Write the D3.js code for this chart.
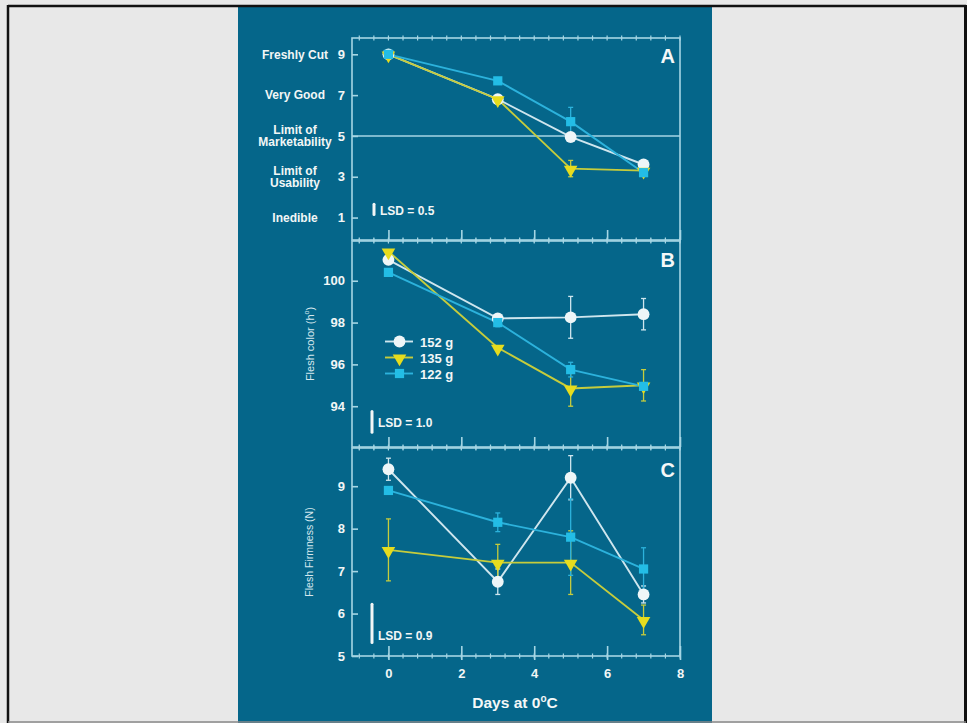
<!DOCTYPE html>
<html>
<head>
<meta charset="utf-8">
<script src="https://cdn.jsdelivr.net/npm/d3@7"></script>
<style>
  html, body { margin: 0; padding: 0; background: #e8e8e8; }
  svg { display: block; }
  text { font-family: "Liberation Sans", Arial, sans-serif; }
</style>
</head>
<body>
<script>
// Storage days at 0 °C
const days = [0, 3, 5, 7];
const seriesNames = ["152 g", "135 g", "122 g"];

// Panel A: visual quality score
const quality152 = [9.0, 6.8, 4.95, 3.6];
const quality135 = [9.0, 6.8, 3.4, 3.3];
const quality122 = [9.0, 7.7, 5.7, 3.2];
const qualityErr152 = [0, 0, 0, 0];
const qualityErr135 = [0, 0, 0.4, 0];
const qualityErr122 = [0, 0.15, 0.7, 0];
const qualityTicks = [1, 3, 5, 7, 9];
const qualityTickNames = ["Inedible", "Limit of|Usability", "Limit of|Marketability", "Very Good", "Freshly Cut"];

// Panel B: flesh color (hue angle)
const color152 = [101.0, 98.2, 98.25, 98.4];
const color135 = [101.4, 96.8, 94.85, 95.0];
const color122 = [100.4, 98.0, 95.75, 94.95];
const colorErr152 = [0, 0.15, 1.0, 0.75];
const colorErr135 = [0, 0, 0.85, 0.75];
const colorErr122 = [0, 0.2, 0.35, 0];
const colorTicks = [94, 96, 98, 100];

// Panel C: flesh firmness (N)
const firm152 = [9.4, 6.75, 9.2, 6.45];
const firm135 = [7.5, 7.2, 7.2, 5.85];
const firm122 = [8.9, 8.15, 7.8, 7.05];
const firmErr152 = [0.26, 0.3, 0.52, 0.2];
const firmErr135 = [0.73, 0.43, 0.75, 0.35];
const firmErr122 = [0, 0.22, 0.9, 0.5];
const firmTicks = [5, 6, 7, 8, 9];

const xTicks = [0, 2, 4, 6, 8];
const lsdValues = [0.5, 1.0, 0.9];
const panelLetters = ["A", "B", "C"];

// ---- drawing ----
const W = 967, H = 723;
const bg = "#05668a";
const axisColor = "#a6d6e4";
const seriesColors = ["#eef6f8", "#e6dc1e", "#23bde6"];
const lineColors = ["#cfe6ee", "#c6cc3c", "#2cb2dc"];

const svg = d3.select("body").append("svg").attr("width", W).attr("height", H);

// page and slide
svg.append("rect").attr("width", W).attr("height", H).attr("fill", "#e8e8e8");
svg.append("rect").attr("x", 238).attr("y", 7).attr("width", 474).attr("height", H - 7).attr("fill", bg);
svg.append("line").attr("x1", 8).attr("x2", 966).attr("y1", 6).attr("y2", 6).attr("stroke", "#111").attr("stroke-width", 2.5);
svg.append("line").attr("x1", 8).attr("x2", 8).attr("y1", 5).attr("y2", H).attr("stroke", "#111").attr("stroke-width", 2.5);
svg.append("line").attr("x1", 965.5).attr("x2", 965.5).attr("y1", 5).attr("y2", H).attr("stroke", "#111").attr("stroke-width", 3);
svg.append("line").attr("x1", 8).attr("x2", 966).attr("y1", 722).attr("y2", 722).attr("stroke", "#888").attr("stroke-width", 1.5);

const x = d3.scaleLinear().domain([-1, 8]).range([352, 680]);
const minorTicks = d3.range(-0.8, 8.01, 0.4);

const panels = [
  { top: 38, bottom: 240, domain: [-0.1, 9.8], ticks: qualityTicks,
    values: [quality152, quality135, quality122], errs: [qualityErr152, qualityErr135, qualityErr122],
    lsdCenter: 1.4, lsdX: 374, lsdTextY: 215, letterY: 63 },
  { top: 241, bottom: 447, domain: [92.05, 101.9], ticks: colorTicks,
    values: [color152, color135, color122], errs: [colorErr152, colorErr135, colorErr122],
    lsdCenter: 93.25, lsdX: 372, lsdTextY: 427, letterY: 267 },
  { top: 448, bottom: 656, domain: [5, 9.9], ticks: firmTicks,
    values: [firm152, firm135, firm122], errs: [firmErr152, firmErr135, firmErr122],
    lsdCenter: 5.77, lsdX: 372, lsdTextY: 640, letterY: 477 }
];

const symbols = [d3.symbolCircle, d3.symbolTriangle, d3.symbolSquare];
const symbolSizes = [110, 80, 85];

function marker(g, i, cx, cy) {
  const s = g.append("path")
    .attr("d", d3.symbol().type(symbols[i]).size(symbolSizes[i])())
    .attr("fill", seriesColors[i]);
  // triangles point downward
  s.attr("transform", i === 1 ? `translate(${cx},${cy + 1}) rotate(180)` : `translate(${cx},${cy})`);
}

panels.forEach((p, pi) => {
  const y = d3.scaleLinear().domain(p.domain).range([p.bottom, p.top]);
  const g = svg.append("g");

  // frame
  g.append("rect").attr("x", x.range()[0]).attr("y", p.top)
    .attr("width", x.range()[1] - x.range()[0]).attr("height", p.bottom - p.top)
    .attr("fill", "none").attr("stroke", axisColor).attr("stroke-width", 1.6);

  // bottom axis: major ticks inward, minor ticks crossing
  const bottomAxis = g.append("g").attr("transform", `translate(0,${p.bottom})`)
    .call(d3.axisBottom(x).tickValues(xTicks).tickSize(-10).tickSizeOuter(0).tickFormat(pi === 2 ? d3.format("d") : ""));
  bottomAxis.select(".domain").remove();
  bottomAxis.selectAll(".tick line").attr("stroke", axisColor).attr("stroke-width", 1.6);
  if (pi === 2) {
    bottomAxis.selectAll(".tick").append("line").attr("y1", 0).attr("y2", 4).attr("stroke", axisColor).attr("stroke-width", 1.6);
    bottomAxis.selectAll(".tick text").attr("y", 13).attr("dy", "0.71em")
      .attr("fill", "#f2f6f6").attr("font-size", 13).attr("font-weight", "bold");
  }
  [p.top, p.bottom].forEach(yy => {
    g.selectAll(null).data(minorTicks).join("line")
      .attr("x1", d => x(d)).attr("x2", d => x(d))
      .attr("y1", yy - 2.5).attr("y2", yy + 2.5)
      .attr("stroke", axisColor).attr("stroke-width", 1.2);
  });

  // left axis
  const leftAxis = g.append("g").attr("transform", `translate(${x.range()[0]},0)`)
    .call(d3.axisLeft(y).tickValues(p.ticks).tickSize(-6).tickSizeOuter(0).tickPadding(7).tickFormat(d3.format("d")));
  leftAxis.select(".domain").remove();
  leftAxis.selectAll(".tick line").attr("stroke", axisColor).attr("stroke-width", 1.6);
  leftAxis.selectAll(".tick text").attr("fill", "#f2f6f6").attr("font-size", 13).attr("font-weight", "bold");

  // panel letter
  g.append("text").attr("x", 675).attr("y", p.letterY).attr("text-anchor", "end")
    .attr("fill", "#f4f8f8").attr("font-size", 20).attr("font-weight", "bold").text(panelLetters[pi]);

  // LSD bar
  const lsd = lsdValues[pi];
  g.append("line").attr("x1", p.lsdX).attr("x2", p.lsdX)
    .attr("y1", y(p.lsdCenter - lsd / 2)).attr("y2", y(p.lsdCenter + lsd / 2))
    .attr("stroke", "#f2f6f6").attr("stroke-width", 3).attr("stroke-linecap", "round");
  g.append("text").attr("x", p.lsdX + 6).attr("y", p.lsdTextY)
    .attr("fill", "#f2f6f6").attr("font-size", 12).attr("font-weight", "bold")
    .text("LSD = " + d3.format(".1f")(lsd));

  // marketability limit in panel A
  if (pi === 0) {
    g.append("line").attr("x1", x.range()[0]).attr("x2", x.range()[1])
      .attr("y1", y(5)).attr("y2", y(5)).attr("stroke", axisColor).attr("stroke-width", 1.6);
    // quality scale names
    g.selectAll(null).data(qualityTicks).join("text")
      .attr("x", 295).attr("y", d => y(d))
      .attr("text-anchor", "middle").attr("fill", "#f2f6f6")
      .attr("font-size", 12).attr("font-weight", "bold")
      .each(function (d, i) {
        const lines = qualityTickNames[i].split("|");
        const t = d3.select(this);
        lines.forEach((ln, k) => {
          t.append("tspan").attr("x", 295)
            .attr("dy", k === 0 ? (0.35 - (lines.length - 1) * 0.52) + "em" : "1.04em")
            .text(ln);
        });
      });
  }

  // error bars, lines, markers
  const line = d3.line().x((d, i) => x(days[i])).y(d => y(d));
  p.values.forEach((vals, si) => {
    const errs = p.errs[si];
    vals.forEach((v, di) => {
      if (errs[di] > 0) {
        const cx = x(days[di]);
        const y1 = y(v - errs[di]), y2 = y(v + errs[di]);
        g.append("line").attr("x1", cx).attr("x2", cx).attr("y1", y1).attr("y2", y2)
          .attr("stroke", lineColors[si]).attr("stroke-width", 1.3);
        [y1, y2].forEach(yy => g.append("line").attr("x1", cx - 2.5).attr("x2", cx + 2.5)
          .attr("y1", yy).attr("y2", yy).attr("stroke", lineColors[si]).attr("stroke-width", 1.3));
      }
    });
  });
  p.values.forEach((vals, si) => {
    g.append("path").datum(vals).attr("d", line).attr("fill", "none")
      .attr("stroke", lineColors[si]).attr("stroke-width", 1.9);
  });
  p.values.forEach((vals, si) => {
    vals.forEach((v, di) => marker(g, si, x(days[di]), y(v)));
  });

  // y titles
  if (pi === 1) {
    g.append("text").attr("transform", `translate(314,${344}) rotate(-90)`)
      .attr("text-anchor", "middle").attr("fill", "#d6e8ee").attr("font-size", 11)
      .call(t => { t.append("tspan").text("Flesh color (h"); t.append("tspan").attr("font-size", 7).attr("dy", -5).text("o"); t.append("tspan").attr("dy", 5).text(")"); });

    // legend
    const lg = g.append("g");
    const rows = [341.5, 357.5, 373.5];
    seriesNames.forEach((name, si) => {
      lg.append("line").attr("x1", 385).attr("x2", 413).attr("y1", rows[si]).attr("y2", rows[si])
        .attr("stroke", lineColors[si]).attr("stroke-width", 1.9);
      marker(lg, si, 399.5, rows[si]);
      lg.append("text").attr("x", 420).attr("y", rows[si] + 5)
        .attr("fill", "#f2f6f6").attr("font-size", 13).attr("font-weight", "bold").text(name);
    });
  }
  if (pi === 2) {
    g.append("text").attr("transform", `translate(313,552) rotate(-90)`)
      .attr("text-anchor", "middle").attr("fill", "#d6e8ee").attr("font-size", 10.5)
      .text("Flesh Firmness (N)");
  }
});

// x title
svg.append("text").attr("x", 515).attr("y", 708).attr("text-anchor", "middle")
  .attr("fill", "#f4f8f8").attr("font-size", 15.5).attr("font-weight", "bold")
  .call(t => {
    t.append("tspan").text("Days at 0");
    t.append("tspan").attr("font-size", 10).attr("dy", -6).text("o");
    t.append("tspan").attr("dy", 6).text("C");
  });
</script>
</body>
</html>
